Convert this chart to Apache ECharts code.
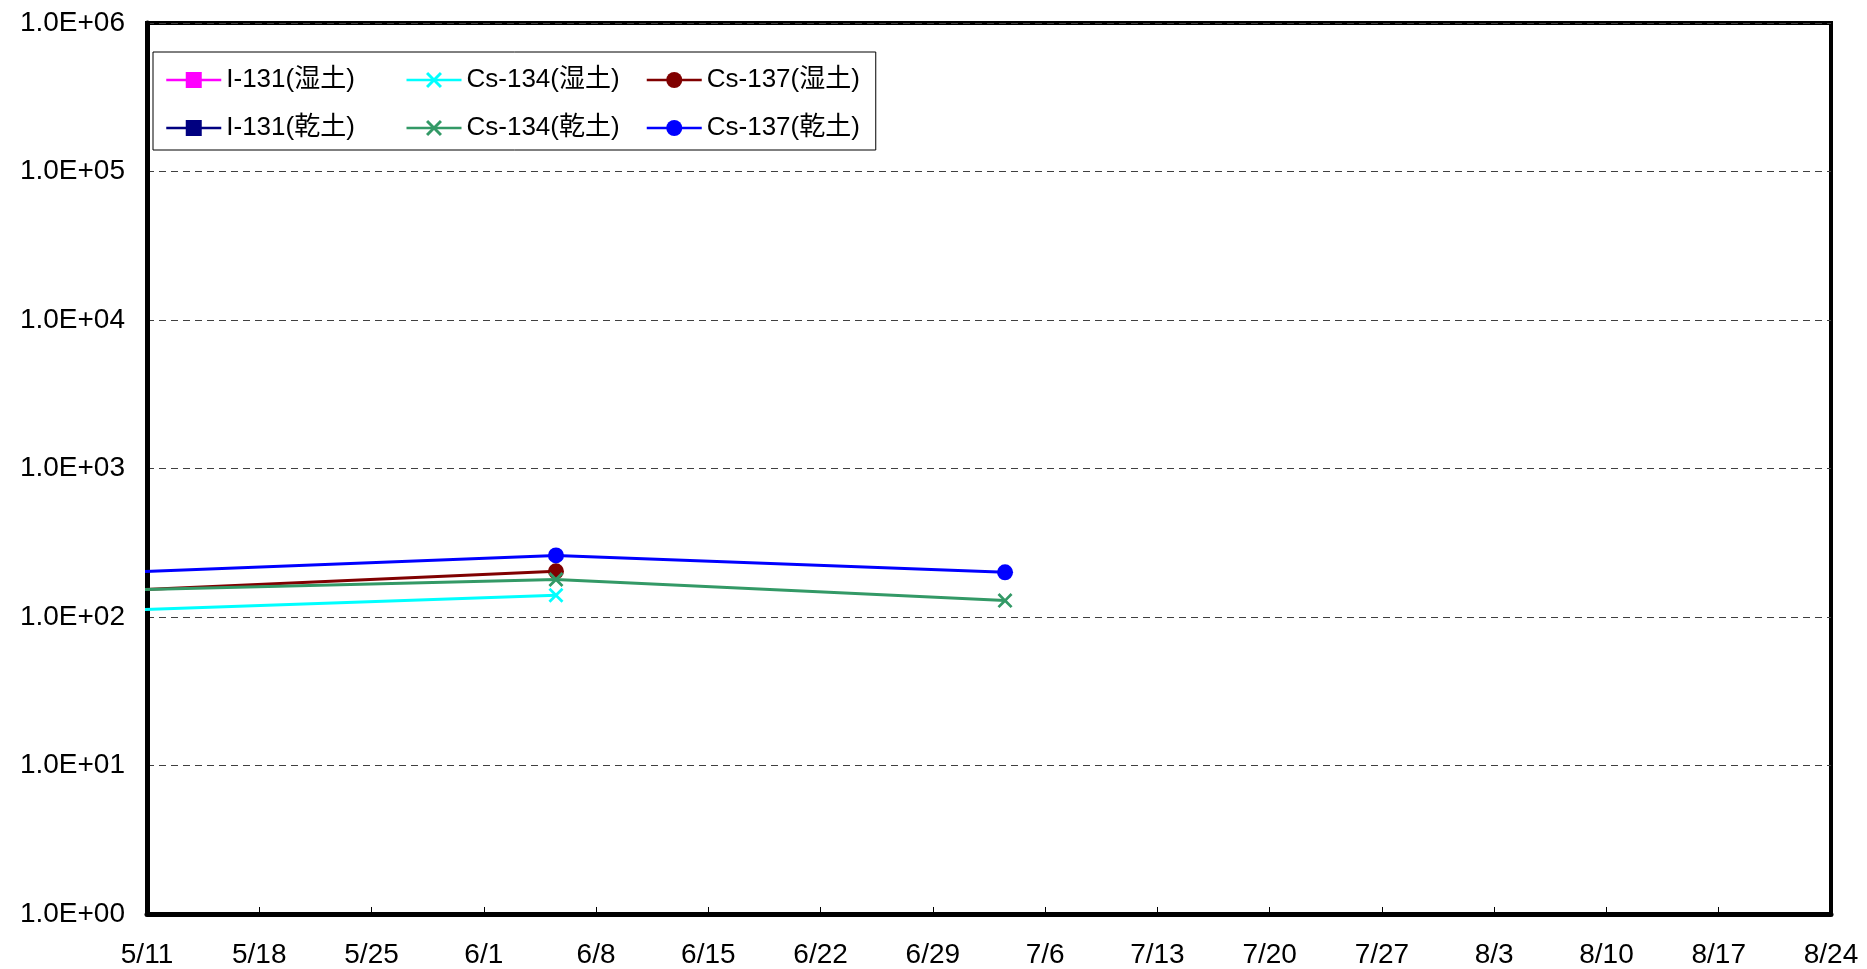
<!DOCTYPE html>
<html><head><meta charset="utf-8">
<script src="https://cdn.jsdelivr.net/npm/echarts@6/dist/echarts.min.js"></script>
<style>html,body{margin:0;padding:0;background:#fff}#c{width:1867px;height:969px}</style>
</head><body><div id="c"></div>
<script>
// ---- data ----
const axisStart = '2011-05-11T00:00:00Z';
const xTickLabels = ['5/11','5/18','5/25','6/1','6/8','6/15','6/22','6/29','7/6','7/13','7/20','7/27','8/3','8/10','8/17','8/24'];
const yTickLabels = ['1.0E+00','1.0E+01','1.0E+02','1.0E+03','1.0E+04','1.0E+05','1.0E+06'];
const sampleDates = ['2011-05-08T12:00:00Z','2011-06-05T12:00:00Z','2011-07-03T12:00:00Z'];
const seriesNames = ['I-131(湿土)','Cs-134(湿土)','Cs-137(湿土)','I-131(乾土)','Cs-134(乾土)','Cs-137(乾土)'];
const i131Wet  = [null, null, null];
const cs134Wet = [110, 140, null];
const cs137Wet = [149, 203, null];
const i131Dry  = [null, null, null];
const cs134Dry = [151, 179, 129];
const cs137Dry = [198, 260, 200];

// ---- styling ----
const FONT = "'Liberation Sans', Arial, 'Noto Sans CJK JP', sans-serif";
const xMark = 'path://M0,1.3L1.3,0L5,3.7L8.7,0L10,1.3L6.3,5L10,8.7L8.7,10L5,6.3L1.3,10L0,8.7L3.7,5Z';
const styles = [
  {color:'#FF00FF', symbol:'rect',   size:13},
  {color:'#00FFFF', symbol:xMark,    size:15},
  {color:'#800000', symbol:'circle', size:16},
  {color:'#000080', symbol:'rect',   size:13},
  {color:'#339966', symbol:xMark,    size:15},
  {color:'#0000FF', symbol:'circle', size:16}
];
const valuesList = [i131Wet, cs134Wet, cs137Wet, i131Dry, cs134Dry, cs137Dry];
const DAY = 86400000;
const t0 = Date.parse(axisStart);
const xs = sampleDates.map(d => (Date.parse(d) - t0) / DAY);

const series = seriesNames.map((name, i) => ({
  name: name,
  type: 'line',
  data: valuesList[i].map((v, k) => v == null ? null : [xs[k], v]).filter(p => p),
  symbol: styles[i].symbol,
  symbolSize: styles[i].size,
  showAllSymbol: true,
  clip: true,
  color: styles[i].color,
  lineStyle: {color: styles[i].color, width: 3},
  itemStyle: {color: styles[i].color},
  emphasis: {disabled: true},
  animation: false,
  z: 3 + i
}));

const chart = echarts.init(document.getElementById('c'), null, {renderer: 'canvas'});
chart.setOption({
  backgroundColor: '#fff',
  animation: false,
  textStyle: {fontFamily: FONT, color: '#000'},
  grid: {left: 147, right: 36, top: 23, bottom: 55, show: true, borderColor: '#000', borderWidth: 4, backgroundColor: 'transparent'},
  legend: {
    data: seriesNames,
    left: 153, top: 52,
    width: 700,
    orient: 'horizontal',
    padding: [15, 12, 9, 12],
    itemGap: 22,
    itemWidth: 55,
    itemHeight: 20,
    borderColor: '#000',
    borderWidth: 1,
    backgroundColor: '#fff',
    selectedMode: false,
    lineStyle: {width: 2.5},
    textStyle: {fontFamily: FONT, fontSize: 26, color: '#000', width: 157, lineHeight: 20}
  },
  xAxis: {
    type: 'value',
    min: 0, max: 105, interval: 7,
    axisLine: {show: true, lineStyle: {color: '#000', width: 5}},
    axisTick: {show: true, inside: true, length: 7, lineStyle: {color: '#000', width: 1}},
    splitLine: {show: false},
    axisLabel: {
      fontFamily: FONT, fontSize: 28, color: '#000', margin: 27,
      formatter: v => xTickLabels[Math.round(v / 7)]
    }
  },
  yAxis: {
    type: 'log', logBase: 10,
    min: 1, max: 1e6, interval: 1,
    axisLine: {show: true, lineStyle: {color: '#000', width: 5}},
    axisTick: {show: false},
    splitLine: {show: true, lineStyle: {color: '#404040', width: 1, type: [7, 5]}},
    axisLabel: {
      fontFamily: FONT, fontSize: 28, color: '#000', margin: 22,
      formatter: v => yTickLabels[Math.round(Math.log10(v))]
    }
  },
  series: series
});
</script>
</body></html>
